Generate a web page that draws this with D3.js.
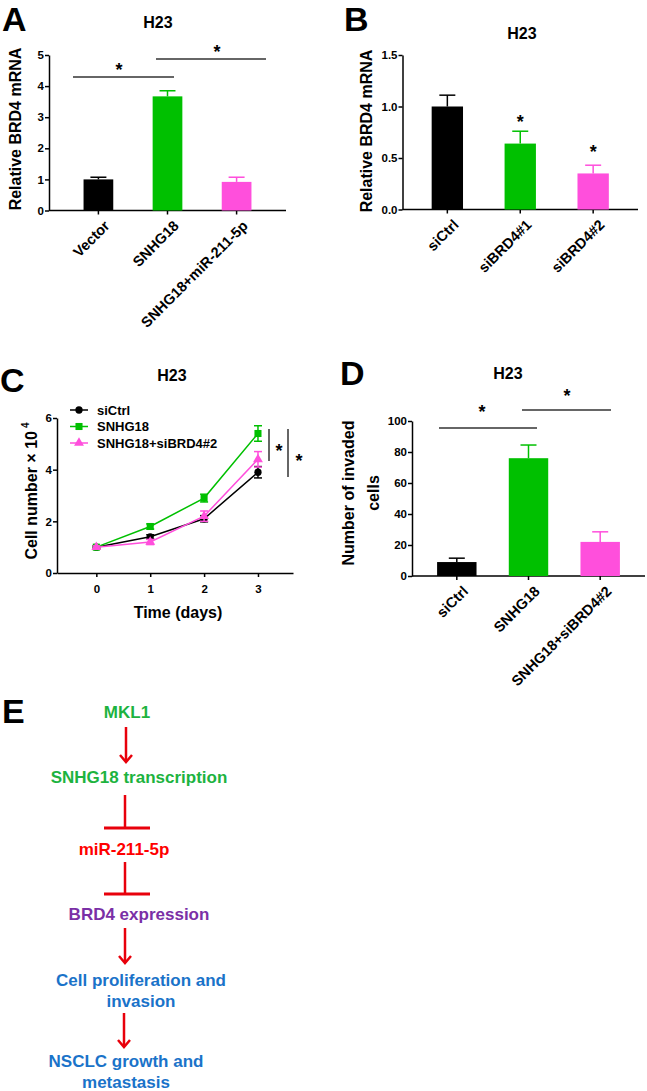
<!DOCTYPE html>
<html><head><meta charset="utf-8">
<script src="https://cdn.jsdelivr.net/npm/d3@7"></script>
<style>
html,body{margin:0;padding:0;background:#fff;}
svg text{font-family:Arial,"Liberation Sans",sans-serif;font-weight:bold;}
</style></head>
<body>
<svg id="c" width="647" height="1091"></svg>
<script>
// ---------- DATA ----------
const aCategories = ["Vector", "SNHG18", "SNHG18+miR-211-5p"];
const aValues = [1.0, 3.67, 0.92];
const aErrors = [0.07, 0.18, 0.15];
const aTicks = [0, 1, 2, 3, 4, 5];

const bCategories = ["siCtrl", "siBRD4#1", "siBRD4#2"];
const bValues = [1.0, 0.64, 0.35];
const bErrors = [0.11, 0.12, 0.08];
const bTicks = [0.0, 0.5, 1.0, 1.5];

const cDays = [0, 1, 2, 3];
const cSeriesNames = ["siCtrl", "SNHG18", "SNHG18+siBRD4#2"];
const cSiCtrl = [1.0, 1.4, 2.1, 3.9];
const cSiCtrlErr = [0.05, 0.08, 0.12, 0.22];
const cSNHG18 = [1.0, 1.8, 2.9, 5.4];
const cSNHG18Err = [0.05, 0.1, 0.15, 0.3];
const cSiBRD4 = [1.0, 1.2, 2.2, 4.4];
const cSiBRD4Err = [0.05, 0.1, 0.2, 0.3];
const cTicksY = [0, 2, 4, 6];

const dCategories = ["siCtrl", "SNHG18", "SNHG18+siBRD4#2"];
const dValues = [9, 76, 22];
const dErrors = [2.5, 8.5, 6.5];
const dTicks = [0, 20, 40, 60, 80, 100];

const eNodes = ["MKL1", "SNHG18 transcription", "miR-211-5p", "BRD4 expression", "Cell proliferation and|invasion", "NSCLC growth and|metastasis"];
const eLinks = ["arrow", "inhibit", "inhibit", "arrow", "arrow"];

// ---------- STYLE ----------
const barColors = ["#000000", "#00c000", "#ff4fdc"];
const eColors = ["#1db33f", "#1db33f", "#ff0000", "#7a2fa6", "#1a73c9", "#1a73c9"];
const FONT = "Arial,'Liberation Sans',sans-serif";
const svg = d3.select("#c");

function panelLabel(t, x, y) {
  svg.append("text").attr("x", x).attr("y", y).attr("font-size", 34).text(t);
}
function title(x, y) {
  svg.append("text").attr("x", x).attr("y", y).attr("font-size", 16).attr("text-anchor", "middle").text("H23");
}
function star(x, y) {
  svg.append("text").attr("x", x).attr("y", y).attr("font-size", 18).attr("text-anchor", "middle").text("*");
}
function styleAxis(a) {
  a.selectAll("path,line").attr("stroke", "#000").attr("stroke-width", 1.5);
  a.selectAll("text").attr("font-size", 11.5).attr("font-family", FONT).attr("font-weight", "bold").attr("fill", "#000");
}

function barPanel(o) {
  const g = svg.append("g");
  const y = d3.scaleLinear().domain(o.domain).range([o.y0, o.y1]);
  const x = d3.scaleBand().domain(o.cats).range([o.x0, o.x1]).paddingInner(o.pad).paddingOuter(o.padOuter);
  const yAxis = d3.axisLeft(y).tickValues(o.ticks).tickFormat(o.fmt).tickSize(4).tickSizeOuter(0);
  const ya = g.append("g").attr("transform", `translate(${o.x0},0)`).call(yAxis);
  const xAxis = d3.axisBottom(x).tickSize(4).tickSizeOuter(0).tickFormat("");
  const xa = g.append("g").attr("transform", `translate(0,${o.y0})`).call(xAxis);
  xa.select(".domain").attr("d", `M${o.x0},0H${o.xEnd}`);
  styleAxis(ya); styleAxis(xa);
  ya.selectAll("text").attr("dx", 2);
  g.selectAll("rect.bar").data(o.vals).enter().append("rect")
    .attr("x", (d, i) => x(o.cats[i])).attr("width", x.bandwidth())
    .attr("y", d => y(d)).attr("height", d => o.y0 - y(d))
    .attr("fill", (d, i) => barColors[i]);
  o.vals.forEach((v, i) => {
    const cx = x(o.cats[i]) + x.bandwidth() / 2;
    g.append("line").attr("x1", cx).attr("x2", cx).attr("y1", y(v)).attr("y2", y(v + o.errs[i])).attr("stroke", barColors[i]).attr("stroke-width", 1.5);
    g.append("line").attr("x1", cx - 8).attr("x2", cx + 8).attr("y1", y(v + o.errs[i])).attr("y2", y(v + o.errs[i])).attr("stroke", barColors[i]).attr("stroke-width", 1.5);
  });
  o.cats.forEach((c, i) => {
    const cx = x(c) + x.bandwidth() / 2;
    g.append("text").attr("transform", `translate(${cx + 5},${o.y0 + 9}) rotate(-45)`)
      .attr("text-anchor", "end").attr("dy", "0.7em").attr("font-size", 14.5).text(c);
  });
  const lab = g.append("text").attr("transform", `translate(${o.labX},${o.labY}) rotate(-90)`).attr("text-anchor", "middle").attr("font-size", 16);
  o.label.forEach((l, i) => lab.append("tspan").attr("x", 0).attr("dy", i === 0 ? 0 : 25).text(l));
  return { x, y };
}

// ---------- PANEL A ----------
panelLabel("A", 2, 31);
title(158, 28);
const A = barPanel({ cats: aCategories, vals: aValues, errs: aErrors, ticks: aTicks, domain: [0, 5], fmt: d3.format("d"),
  x0: 49, x1: 286, xEnd: 286, y0: 210.5, y1: 55, pad: 0.57, padOuter: 0.5, labX: 21, labY: 129, label: ["Relative BRD4 mRNA"] });
function sigH(x1, x2, y, sx, sy) {
  svg.append("line").attr("x1", x1).attr("x2", x2).attr("y1", y).attr("y2", y).attr("stroke", "#333").attr("stroke-width", 1.5);
  star(sx, sy);
}
sigH(73, 174, 77, 119, 76);
sigH(156, 266, 59, 217, 58);

// ---------- PANEL B ----------
panelLabel("B", 344, 31);
title(522, 39);
const B = barPanel({ cats: bCategories, vals: bValues, errs: bErrors, ticks: bTicks, domain: [0, 1.5], fmt: d3.format(".1f"),
  x0: 402.5, x1: 638, xEnd: 638, y0: 209.5, y1: 55, pad: 0.57, padOuter: 0.4, labX: 372, labY: 131, label: ["Relative BRD4 mRNA"] });
star(B.x("siBRD4#1") + B.x.bandwidth() / 2, B.y(bValues[1] + bErrors[1]) - 3);
star(B.x("siBRD4#2") + B.x.bandwidth() / 2, B.y(bValues[2] + bErrors[2]) - 7);

// ---------- PANEL C ----------
panelLabel("C", 0, 392);
title(172, 381);
(function () {
  const g = svg.append("g");
  const x = d3.scaleLinear().domain([-0.73, 3.65]).range([57, 293]);
  const y = d3.scaleLinear().domain([0, 6]).range([573, 418]);
  const ya = g.append("g").attr("transform", "translate(57,0)").call(d3.axisLeft(y).tickValues(cTicksY).tickFormat(d3.format("d")).tickSize(4).tickSizeOuter(0));
  const xa = g.append("g").attr("transform", "translate(0,573)").call(d3.axisBottom(x).tickValues(cDays).tickFormat(d3.format("d")).tickSize(4).tickSizeOuter(0));
  styleAxis(ya); styleAxis(xa);
  ya.selectAll("text").attr("dx", 2);
  xa.selectAll("text").attr("dy", "1.1em");
  const series = [
    { name: cSeriesNames[0], v: cSiCtrl, e: cSiCtrlErr, c: "#000000", s: d3.symbolCircle, size: 42 },
    { name: cSeriesNames[1], v: cSNHG18, e: cSNHG18Err, c: "#00c000", s: d3.symbolSquare, size: 50 },
    { name: cSeriesNames[2], v: cSiBRD4, e: cSiBRD4Err, c: "#ff4fdc", s: d3.symbolTriangle, size: 42 }
  ];
  const line = d3.line().x((d, i) => x(cDays[i])).y(d => y(d));
  series.forEach(s => {
    g.append("path").attr("d", line(s.v)).attr("fill", "none").attr("stroke", s.c).attr("stroke-width", 1.5);
    s.v.forEach((v, i) => {
      const cx = x(cDays[i]);
      g.append("line").attr("x1", cx).attr("x2", cx).attr("y1", y(v - s.e[i])).attr("y2", y(v + s.e[i])).attr("stroke", s.c).attr("stroke-width", 1.5);
      [v - s.e[i], v + s.e[i]].forEach(ev => g.append("line").attr("x1", cx - 4).attr("x2", cx + 4).attr("y1", y(ev)).attr("y2", y(ev)).attr("stroke", s.c).attr("stroke-width", 1.5));
      g.append("path").attr("d", d3.symbol(s.s, s.size)()).attr("transform", `translate(${cx},${y(v)})`).attr("fill", s.c);
    });
  });
  // legend
  series.forEach((s, i) => {
    const ly = 410 + i * 16.5;
    g.append("line").attr("x1", 70).attr("x2", 88).attr("y1", ly).attr("y2", ly).attr("stroke", s.c).attr("stroke-width", 1.5);
    g.append("path").attr("d", d3.symbol(s.s, s.size)()).attr("transform", `translate(79,${ly})`).attr("fill", s.c);
    g.append("text").attr("x", 97).attr("y", ly + 4.5).attr("font-size", 13).text(s.name);
  });
  // significance
  g.append("line").attr("x1", 269).attr("x2", 269).attr("y1", 429).attr("y2", 461).attr("stroke", "#333").attr("stroke-width", 1.5);
  star(279, 457);
  g.append("line").attr("x1", 288).attr("x2", 288).attr("y1", 429).attr("y2", 477).attr("stroke", "#333").attr("stroke-width", 1.5);
  star(299, 467);
  // labels
  const yl = g.append("text").attr("transform", "translate(37,491) rotate(-90)").attr("text-anchor", "middle").attr("font-size", 16);
  yl.append("tspan").text("Cell number × 10");
  yl.append("tspan").attr("font-size", 10).attr("dy", -8).attr("dx", 3).text("4");
  g.append("text").attr("x", 178).attr("y", 618).attr("text-anchor", "middle").attr("font-size", 16).text("Time (days)");
})();

// ---------- PANEL D ----------
panelLabel("D", 340, 385);
title(508, 379);
const D = barPanel({ cats: dCategories, vals: dValues, errs: dErrors, ticks: dTicks, domain: [0, 100], fmt: d3.format("d"),
  x0: 412, x1: 645, xEnd: 645, y0: 576, y1: 421, pad: 0.45, padOuter: 0.35, labX: 354, labY: 493, label: ["Number of invaded", "cells"] });
sigH(439, 537, 428, 482, 418);
sigH(522, 611, 410, 567, 402);

// ---------- PANEL E ----------
panelLabel("E", 2, 723);
(function () {
  const g = svg.append("g");
  const nodeY = [712, 777, 849, 914, 980, 1061];
  const nodeX = [127, 139, 124, 139, 141, 126];
  eNodes.forEach((n, i) => {
    const t = g.append("text").attr("x", nodeX[i]).attr("y", nodeY[i] + 6).attr("text-anchor", "middle").attr("font-size", 17).attr("fill", eColors[i]);
    n.split("|").forEach((p, j) => t.append("tspan").attr("x", nodeX[i]).attr("dy", j === 0 ? 0 : 20.5).text(p));
  });
  const linkX = [126, 125, 125, 125, 124];
  const linkY = [[727, 762], [795, 828], [862, 894], [928, 963], [1013, 1047]];
  const red = "#e8000b";
  eLinks.forEach((l, i) => {
    const [y1, y2] = linkY[i], lx = linkX[i];
    g.append("line").attr("x1", lx).attr("x2", lx).attr("y1", y1).attr("y2", y2 - (l === "arrow" ? 1 : 0)).attr("stroke", red).attr("stroke-width", 2.5);
    if (l === "arrow") {
      g.append("path").attr("d", `M${lx - 6},${y2 - 7}L${lx},${y2}L${lx + 6},${y2 - 7}`).attr("fill", "none").attr("stroke", red).attr("stroke-width", 2.5);
    } else {
      g.append("line").attr("x1", lx - 21).attr("x2", lx + 25).attr("y1", y2).attr("y2", y2).attr("stroke", red).attr("stroke-width", 3);
    }
  });
})();
</script>
</body></html>
